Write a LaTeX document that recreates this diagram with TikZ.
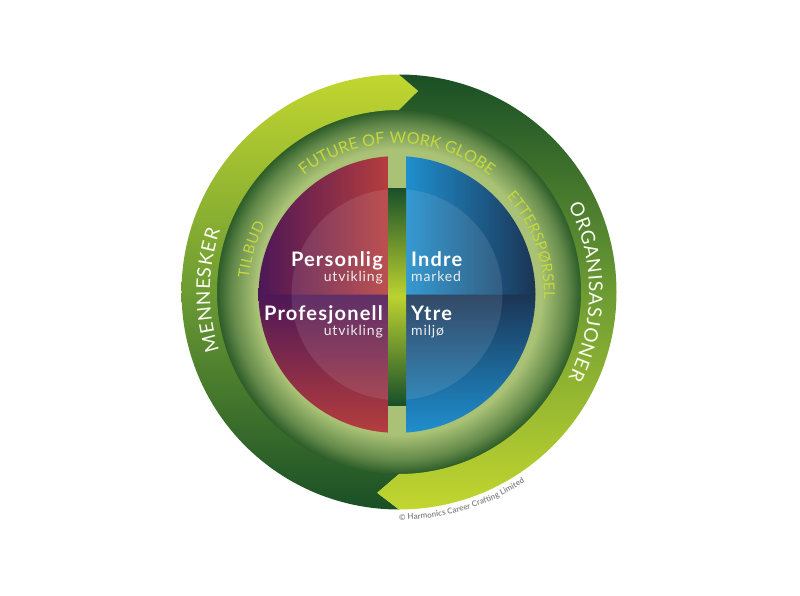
\documentclass[tikz,border=0pt]{standalone}
\usepackage{fontspec}
\setmainfont{Lato}
\newfontfamily\headfont[LetterSpace=6]{Lato}
\usepackage{tikz}
\usetikzlibrary{positioning,decorations.text}

\definecolor{bandlight}{HTML}{C2D62F}
\definecolor{bandmid}{HTML}{6C9B33}
\definecolor{banddark}{HTML}{1A4F26}
\definecolor{ringlight}{HTML}{A9C275}
\definecolor{ringdark}{HTML}{285926}
\definecolor{plumleft}{HTML}{4D1757}
\definecolor{brickright}{HTML}{B53D3D}
\definecolor{seablue}{HTML}{1F8FCE}
\definecolor{deepnavy}{HTML}{1B3454}
\definecolor{stripdark}{HTML}{18502A}
\definecolor{stripbright}{HTML}{BCD22F}
\definecolor{globetext}{HTML}{C5D93A}
\definecolor{notegray}{HTML}{8A8A8A}

\pgfdeclareradialshading{globering}{\pgfpoint{0bp}{0bp}}{%
  color(0bp)=(ringlight); color(19.5bp)=(ringlight);
  color(23bp)=(ringlight!45!ringdark);
  color(25bp)=(ringdark); color(50bp)=(ringdark)}

\newcommand\ringfont{\fontsize{16}{16}\selectfont\color{globetext}}
\newcommand\sidefont{\fontsize{15}{15}\selectfont\color{globetext}}
\newcommand\bandfont{\fontsize{19}{19}\selectfont\color{white!94!bandlight}}
\newcommand\notefont{\fontsize{8}{8}\selectfont\bfseries\color{notegray}}

\begin{document}
\begin{tikzpicture}[x=1pt,y=1pt]
  \tikzset{quadhead/.style = {font=\headfont\bfseries\fontsize{20}{20}\selectfont, text=white, inner sep=0pt}}
  \tikzset{quadsub/.style = {font=\headfont\fontsize{14}{14}\selectfont, text=white!86!gray, inner sep=0pt}}
  \tikzset{arctext/.style = {decorate, decoration={text along path, text align={fit to path}, text={#1}}}}

  \useasboundingbox (-399,-303) rectangle (401,292);
  \coordinate (O) at (0,0);
  \coordinate (C) at (-2,-2.5);

  \shade[shading=globering] (O) circle (183);

  \shade[top color=bandlight, bottom color=banddark, middle color=bandmid]
    (84.5:202) -- (90:217.5) arc[start angle=90, end angle=270, radius=217.5]
    -- (263.8:202) -- (270:182) arc[start angle=270, end angle=90, radius=182] -- cycle;
  \shade[top color=banddark, bottom color=bandlight, middle color=bandmid]
    (90:217.5) arc[start angle=90, end angle=-90, radius=217.5]
    -- (263.8:202) -- (-90:182) arc[start angle=-90, end angle=90, radius=182]
    -- (84.5:202) -- cycle;

  \begin{scope}[shift={(C)}]
    \shade[top color=plumleft, bottom color=brickright]
      (-9,1) -- (-138.4,1) arc[start angle=179.6, end angle=266.27, radius=138.4] -- cycle;
    \shade[top color=deepnavy, bottom color=seablue]
      (9,1) -- (138.4,1) arc[start angle=0.4, end angle=-86.27, radius=138.4] -- cycle;
    \shade[left color=plumleft, right color=brickright]
      (-9,0) -- (93.73:138.4) arc[start angle=93.73, end angle=180, radius=138.4] -- cycle;
    \shade[left color=seablue, right color=deepnavy]
      (9,0) -- (0:138.4) arc[start angle=0, end angle=86.27, radius=138.4] -- cycle;
    \fill[white, opacity=0.1] (0,0) circle (105.5);
    \shade[top color=stripdark, bottom color=stripdark, middle color=stripbright]
      (-9,-110.5) rectangle (9,106.5);

    \path[arctext={|\ringfont|FUTURE OF WORK GLOBE}] (128:151) arc[start angle=128, end angle=52, radius=151];
    \path[arctext={|\sidefont|TILBUD}] (174:149) arc[start angle=174, end angle=152, radius=149];
    \path[arctext={|\sidefont|ETTERSPØRSEL}] (42:147) arc[start angle=42, end angle=-2, radius=147];
  \end{scope}

  \path[arctext={|\bandfont|MENNESKER}] (198:189) arc[start angle=198, end angle=161, radius=189];
  \path[arctext={|\bandfont|ORGANISASJONER}] (27:190) arc[start angle=27, end angle=-27, radius=190];
  \path[arctext={|\notefont|© Harmonics Career Crafting Limited}] (270:228) arc[start angle=270, end angle=303.5, radius=228];

  \node[quadhead, anchor=base east] (personlig) at (-16,26) {Personlig};
  \node[quadsub, anchor=base east] (utvikling1) at ([yshift=-15pt]personlig.base east) {utvikling};
  \node[quadhead, anchor=base east] (profesjonell) at (-16,-28) {Profesjonell};
  \node[quadsub, anchor=base east] (utvikling2) at ([yshift=-15pt]profesjonell.base east) {utvikling};
  \node[quadhead, anchor=base west] (indre) at (12,26) {Indre};
  \node[quadsub, anchor=base west] (marked) at ([yshift=-15pt]indre.base west) {marked};
  \node[quadhead, anchor=base west] (ytre) at (12,-28) {Ytre};
  \node[quadsub, anchor=base west] (miljo) at ([yshift=-15pt]ytre.base west) {miljø};
\end{tikzpicture}
\end{document}
